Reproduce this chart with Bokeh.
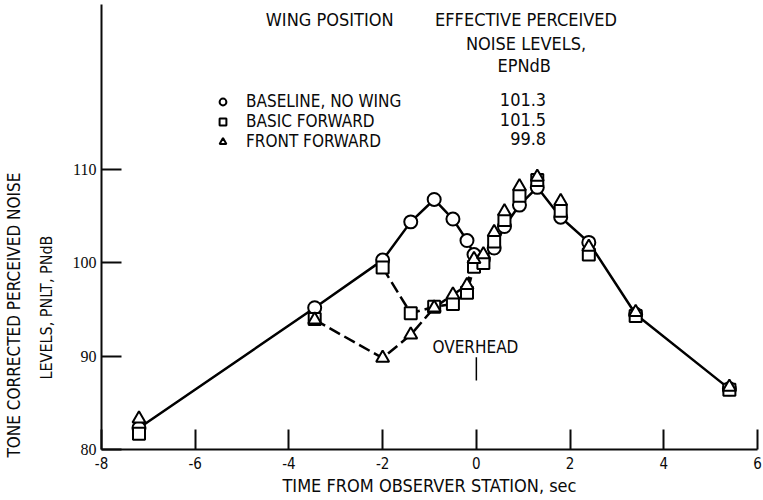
import numpy as np
from bokeh.plotting import figure
from bokeh.models import Range1d, Label, Legend, LegendItem, FixedTicker, Title
from bokeh.embed import file_html
from bokeh.resources import INLINE

# ---- data ----
time_s = [-7.2, -3.45, -2.0, -1.4, -0.9, -0.5, -0.2, -0.05, 0.15, 0.38, 0.6, 0.92, 1.3, 1.8, 2.4, 3.4, 5.4]
baseline_no_wing = [82.3, 95.2, 100.3, 104.4, 106.8, 104.7, 102.4, 100.9, 100.4, 101.6, 103.9, 106.2, 108.1, 104.9, 102.2, 94.5, 86.5]
basic_forward = [81.7, 94.0, 99.5, 94.6, 95.3, 95.6, 96.8, 99.6, 100.0, 102.3, 104.6, 107.2, 108.9, 105.6, 100.9, 94.3, 86.4]
front_forward = [83.3, 93.9, 89.8, 92.3, 95.2, 96.6, 97.6, 100.4, 100.9, 103.3, 105.5, 108.2, 109.2, 106.6, 101.7, 94.7, 86.7]
series_names = ["BASELINE, NO WING", "BASIC FORWARD", "FRONT FORWARD"]
epndb_values = ["101.3", "101.5", "99.8"]
x_ticks = [-8, -6, -4, -2, 0, 2, 4, 6]
y_ticks = [80, 90, 100, 110]

FONT = "DejaVu Sans Condensed"
SERIF = "Liberation Serif"
INK = "#0a0a0a"

p = figure(width=763, height=500, x_range=Range1d(-8, 6), y_range=Range1d(80, 127.7),
           output_backend="svg", toolbar_location=None,
           min_border_left=101, min_border_right=6, min_border_top=4, min_border_bottom=51)
p.xgrid.visible = False
p.ygrid.visible = False
p.outline_line_color = None
p.background_fill_color = "white"
p.border_fill_color = "white"

for ax in (p.xaxis[0], p.yaxis[0]):
    ax.minor_tick_line_color = None
    ax.major_tick_in = 20
    ax.major_tick_out = 0
    ax.axis_line_width = 2
    ax.major_tick_line_width = 2
    ax.axis_line_color = INK
    ax.major_tick_line_color = INK
    ax.major_label_text_color = INK

p.xaxis.ticker = FixedTicker(ticks=x_ticks)
p.xaxis.major_label_overrides = {t: str(t) for t in x_ticks}
p.xaxis.major_label_text_font = FONT
p.xaxis.major_label_text_font_size = "15px"
p.xaxis.major_label_standoff = 7
p.xaxis.axis_label = "TIME FROM OBSERVER STATION, sec"
p.xaxis.axis_label_text_font = FONT
p.xaxis.axis_label_text_font_style = "normal"
p.xaxis.axis_label_text_font_size = "18px"
p.xaxis.axis_label_standoff = 3
p.xaxis.axis_label_text_color = INK

p.yaxis.ticker = FixedTicker(ticks=y_ticks)
p.yaxis.major_label_text_font = SERIF
p.yaxis.major_label_text_font_size = "16px"
p.yaxis.major_label_standoff = 5

# y-axis title, two lines, placed in the left panel
p.add_layout(Title(text="LEVELS, PNLT, PNdB", align="left", offset=70, standoff=27,
                   text_font=FONT, text_font_size="16px", text_font_style="normal",
                   text_color=INK), "left")
p.add_layout(Title(text="TONE CORRECTED PERCEIVED NOISE", align="left", offset=-8, standoff=-4,
                   text_font=FONT, text_font_size="17px", text_font_style="normal",
                   text_color=INK), "left")

# ---- lines ----
LW = 2.5
DASH = "12 5"
p.line(time_s, baseline_no_wing, line_width=LW, color="black")
p.line(time_s[2:8], basic_forward[2:8], line_width=LW, color="black", line_dash=DASH)
p.line(time_s[1:8], front_forward[1:8], line_width=LW, color="black", line_dash=DASH)

# ---- markers ----
r_circ = p.scatter(time_s, baseline_no_wing, marker="circle", size=13, fill_color="white",
                   line_color="black", line_width=2)
r_sq = p.scatter(time_s, basic_forward, marker="square", size=12, fill_color="white",
                 line_color="black", line_width=2)
r_tri = p.scatter(time_s, front_forward, marker="triangle", size=13, fill_color="white",
                  line_color="black", line_width=2)

legend = Legend(items=[LegendItem(label=n, renderers=[r]) for n, r in zip(series_names, [r_circ, r_sq, r_tri])],
                location=(113, 298), orientation="vertical",
                glyph_width=17, glyph_height=17, label_height=17, spacing=0,
                padding=0, margin=0, border_line_color=None, background_fill_alpha=0,
                label_text_font=FONT, label_text_font_size="17px", label_standoff=15,
                label_text_color=INK)
p.add_layout(legend)

# ---- texts ----
def lab(x, y, text, size="18px", align="center"):
    p.add_layout(Label(x=x, y=y, text=text, text_font=FONT, text_font_size=size,
                       text_align=align, text_baseline="middle", text_color=INK))

lab(-3.13, 126.1, "WING POSITION")
lab(1.06, 126.1, "EFFECTIVE PERCEIVED")
lab(1.06, 123.55, "NOISE LEVELS,")
lab(1.02, 121.2, "EPNdB")
for val, yv in zip(epndb_values, [117.53, 115.38, 113.33]):
    lab(1.49, yv, val, size="18px", align="right")

# overhead marker
overhead_x = [0.0]
overhead_top = [89.9]
overhead_bottom = [87.4]
p.segment(x0=overhead_x, y0=overhead_top, x1=overhead_x, y1=overhead_bottom, line_width=1.5, color="black")
lab(-0.02, 90.97, "OVERHEAD", size="17px")

open("out.html", "w").write(file_html(p, INLINE))
